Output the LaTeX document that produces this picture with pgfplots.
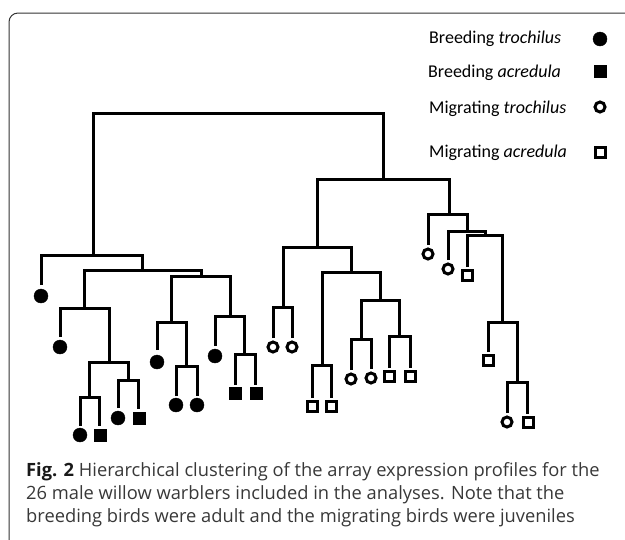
\documentclass[border=0pt]{standalone}
\usepackage{pgfplots}
\pgfplotsset{compat=1.18}
\usepackage{fontspec}
\setmainfont{Carlito}
\newfontfamily\legfont{Carlito}
\newfontfamily\capfont{Open Sans}
\begin{document}
\begin{tikzpicture}
\begin{axis}[
  width=625bp, height=540bp, scale only axis,
  xmin=0, xmax=625, ymin=0, ymax=540, y dir=reverse,
  axis lines=none, ticks=none, clip=false,
  tree/.style={black, line width=3bp, mark=none, forget plot},
]
% ---- dendrogram (each merge: left leg, crossbar, right leg) ----
\addplot[tree] coordinates {(93,255) (93,113) (383,113) (383,179)};
\addplot[tree] coordinates {(41,285) (41,255) (142,255) (142,270)};
\addplot[tree] coordinates {(84,308) (84,270) (201,270) (201,276)};
\addplot[tree] coordinates {(60,337) (60,308) (109,308) (109,362)};
\addplot[tree] coordinates {(89,397) (89,362) (128,362) (128,380)};
\addplot[tree] coordinates {(80,426) (80,397) (99,397) (99,426)};
\addplot[tree] coordinates {(118,408) (118,380) (138,380) (138,409)};
\addplot[tree] coordinates {(171,322) (171,276) (230,276) (230,316)};
\addplot[tree] coordinates {(157,350) (157,322) (186,322) (186,366)};
\addplot[tree] coordinates {(176,396) (176,366) (197,366) (197,396)};
\addplot[tree] coordinates {(215,346) (215,316) (244,316) (244,354)};
\addplot[tree] coordinates {(235,385) (235,354) (255,354) (255,385)};
\addplot[tree] coordinates {(317,247) (317,179) (449,179) (449,214)};
\addplot[tree] coordinates {(283,307) (283,247) (351,247) (351,272)};
\addplot[tree] coordinates {(273,338) (273,307) (292,307) (292,338)};
\addplot[tree] coordinates {(322,365) (322,272) (380,272) (380,300)};
\addplot[tree] coordinates {(312,398) (312,365) (331,365) (331,398)};
\addplot[tree] coordinates {(361,339) (361,300) (399,300) (399,336)};
\addplot[tree] coordinates {(351,370) (351,339) (371,339) (371,369)};
\addplot[tree] coordinates {(389,368) (389,336) (410,336) (410,368)};
\addplot[tree] coordinates {(428,245) (428,214) (467,214) (467,231)};
\addplot[tree] coordinates {(448,260) (448,231) (485,231) (485,235)};
\addplot[tree] coordinates {(467,267) (467,235) (502,235) (502,322)};
\addplot[tree] coordinates {(488,352) (488,322) (517,322) (517,382)};
\addplot[tree] coordinates {(507,413) (507,382) (527,382) (527,414)};
% ---- leaves ----
% Breeding trochilus (filled circle)
\addplot[only marks, mark=*, mark size=7bp, black, forget plot] coordinates {
 (41,296) (60,347) (80,435) (118,418) (157,362) (176,405) (197,405) (215,356) (600,39)};
% Breeding acredula (filled square)
\addplot[only marks, mark=square*, mark size=6.3bp, black, forget plot] coordinates {
 (100,435) (139,418) (235,393) (256,393) (600,71)};
% Migrating trochilus (open circle)
\addplot[only marks, mark=o, mark size=5bp, black, mark options={line width=3bp}, forget plot] coordinates {
 (273,347) (292,347) (351,379) (371,378) (428,254) (448,269) (507,422) (600,107)};
% Migrating acredula (open square)
\addplot[only marks, mark=square, mark size=5bp, black, mark options={line width=3bp}, forget plot] coordinates {
 (312,406) (331,406) (389,376) (410,376) (467,275) (488,360) (528,422) (600,152)};
% ---- legend text ----
\node[anchor=base west, inner sep=0pt, font=\legfont\fontsize{18bp}{20bp}\selectfont] at (axis cs:429,43) {Breeding \textit{trochilus}};
\node[anchor=base west, inner sep=0pt, font=\legfont\fontsize{18bp}{20bp}\selectfont] at (axis cs:428,77) {Breeding \textit{acredula}};
\node[anchor=base west, inner sep=0pt, font=\legfont\fontsize{18bp}{20bp}\selectfont] at (axis cs:429,113) {Migrating \textit{trochilus}};
\node[anchor=base west, inner sep=0pt, font=\legfont\fontsize{18bp}{20bp}\selectfont] at (axis cs:429,157) {Migrating \textit{acredula}};
% ---- frame ----
\draw[line width=1bp, black!80, rounded corners=9bp] (axis cs:9,560) -- (axis cs:9,13) -- (axis cs:640,13);
% ---- caption ----
\node[anchor=base west, inner sep=0pt, text=black!78, font=\capfont\fontsize{18.3bp}{20bp}\selectfont] at (axis cs:26,476) {\textcolor{black!90}{\textbf{Fig. 2}} Hierarchical clustering of the array expression profiles for the};
\node[anchor=base west, inner sep=0pt, text=black!78, font=\capfont\fontsize{18.3bp}{20bp}\selectfont] at (axis cs:26,499) {26 male willow warblers included in the analyses. Note that the};
\node[anchor=base west, inner sep=0pt, text=black!78, font=\capfont\fontsize{18.3bp}{20bp}\selectfont] at (axis cs:26,522) {breeding birds were adult and the migrating birds were juveniles};
\end{axis}
\pgfresetboundingbox
\path (0,0) rectangle (625bp,540bp);
\end{tikzpicture}
\end{document}
